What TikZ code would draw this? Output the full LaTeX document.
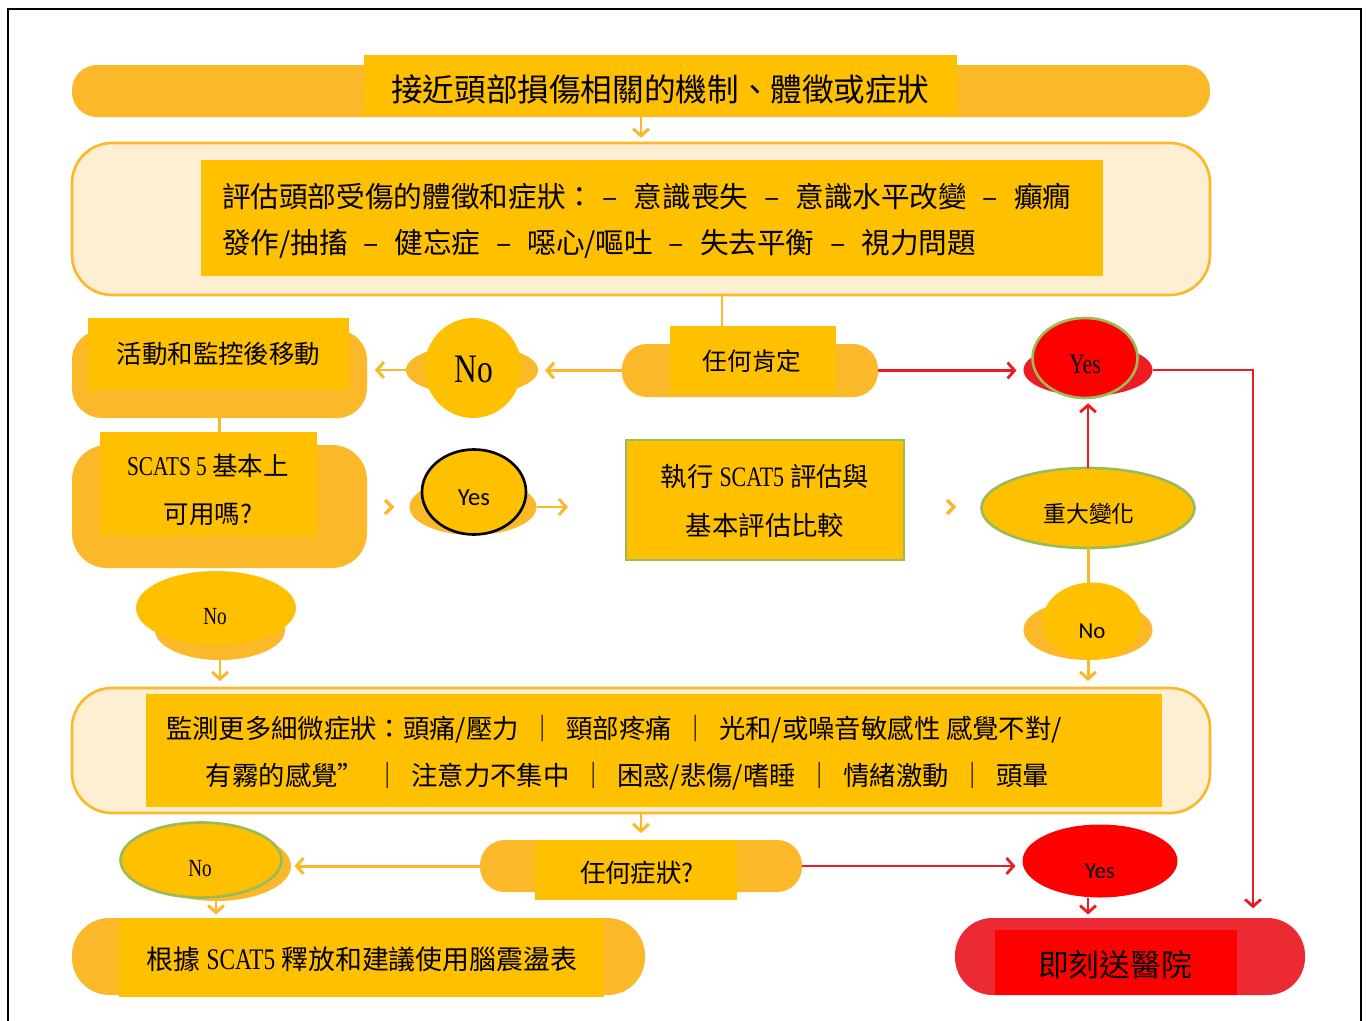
\documentclass[tikz,border=0pt]{standalone}
\usepackage{fontspec}
\setmainfont{Noto Sans CJK TC}
\newfontfamily\cond[FakeStretch=0.78]{Liberation Serif}
\newfontfamily\carl{Carlito}
\usetikzlibrary{arrows.meta,shapes.geometric}
\definecolor{orB}{HTML}{FBB829}
\definecolor{yelC}{HTML}{FFC000}
\definecolor{creamC}{HTML}{FEEFD3}
\definecolor{redL}{HTML}{ED1C24}
\definecolor{redF}{HTML}{FF0000}
\definecolor{grn}{HTML}{9BBB59}
\definecolor{crim}{HTML}{EC2A34}
\newcommand\fz[1]{\fontsize{#1}{#1}\selectfont}
\newcommand\vb{\hspace{0.4em}｜\hspace{0.4em}}
\newcommand\dsh{\hspace{0.55em}–\hspace{0.55em}}
\begin{document}
\begin{tikzpicture}[x=0.02cm,y=-0.02cm,
  every node/.style={inner sep=0pt,outer sep=0pt},
  sz/.style 2 args={minimum width=#1*0.02cm,minimum height=#2*0.02cm},
  bar/.style={fill=orB,draw=none,rounded corners=0.5cm},
  ybox/.style={fill=yelC,draw=none},
  creambox/.style={fill=creamC,draw=orB,line width=1.5pt,rounded corners=0.8cm},
  oline/.style={draw=orB,line width=1.7pt},
  oarr/.style={oline,-{Straight Barb[length=4pt,width=9pt]}},
  rarr/.style={draw=redL,line width=1.6pt,-{Straight Barb[length=4pt,width=9pt]}},
  chev/.style={draw=orB,line width=2pt}
]
\clip (0,0) rectangle (1367,1021);
\fill[white] (0,0) rectangle (1367,1021);
\draw[line width=1.6pt] (8,1040) -- (8,9) -- (1361,9) -- (1361,1040);

% top
\node[bar,sz={1138}{52}] (titlebg) at (641,91) {};
\node[ybox,sz={593}{60}] (title) at (660.5,85) {};
\node[font=\fz{18}] (title-t) at (660,90) {接近頭部損傷相關的機制、體徵或症狀};

% assessment box
\node[creambox,sz={1138}{152}] (assessbg) at (641,219) {};
\node[ybox,sz={902}{116}] (assess) at (652,218) {};
\node[anchor=west,align=left,font=\fontsize{16.3}{26.6}\selectfont] (assess-t) at (222,221)
  {評估頭部受傷的體徵和症狀：\hspace{0.3em}–\hspace{0.55em}意識喪失\dsh 意識水平改變\dsh 癲癇\\發作/抽搐\dsh 健忘症\dsh 噁心/嘔吐\dsh 失去平衡\dsh 視力問題};

% any positive
\node[bar,sz={256}{53}] (anyqbg) at (750,370.5) {};
\node[ybox,sz={166}{67}] (anyq) at (753,359.5) {};
\node[font=\fz{14}] (anyq-t) at (752,361) {任何肯定};

% No 1
\node[ellipse,fill=orB,sz={132}{50}] (no1bg) at (472,370) {};
\node[ellipse,fill=yelC,sz={97}{100}] (no1) at (473,368) {};
\node[font=\cond\fz{23}] (no1-t) at (474,369) {No};

% activity
\node[bar,rounded corners=0.6cm,sz={295}{88}] (actbg) at (219.5,374) {};
\node[ybox,sz={261}{72},font=\fz{14.5}] (act) at (218.5,354) {活動和監控後移動};

% SCATS
\node[bar,rounded corners=0.7cm,sz={295}{123}] (scatsbg) at (219.5,506.5) {};
\node[ybox,sz={217}{103}] (scats) at (208.5,483.5) {};
\node[align=center,font=\fontsize{14.5}{27}\selectfont] (scats-t) at (208,490) {{\cond\fontsize{15.5}{27}\selectfont SCATS 5} 基本上\\可用嗎?};

% Yes 1
\node[ellipse,fill=orB,sz={127}{56}] (yes1bg) at (473,507) {};
\node[ellipse,fill=yelC,draw=black,line width=1.5pt,sz={104}{85}] (yes1) at (474,492) {};
\node[font=\carl\fz{14}] (yes1-t) at (474,498) {Yes};
\coordinate (yesend) at (568,507);

% exec
\node[ybox,draw=grn,line width=1.5pt,sz={278}{120}] (exec) at (765,500) {};
\node[align=center,font=\fontsize{15}{27.5}\selectfont] (exec-t) at (765,501) {執行 {\cond\fontsize{16}{27.5}\selectfont SCAT5} 評估與\\基本評估比較};

% major change
\node[ellipse,fill=yelC,draw=grn,line width=1.5pt,sz={213}{80}] (chg) at (1088,508) {};
\node[font=\fz{13}] (chg-t) at (1089,514) {重大變化};

% Yes 2
\node[ellipse,fill=redL,sz={129}{52}] (yes2bg) at (1088,370) {};
\node[ellipse,fill=redF,draw=grn,line width=1.5pt,sz={105}{80}] (yes2) at (1085,358) {};
\node[font=\cond\fz{16}] (yes2-t) at (1085,364) {Yes};

% No 2
\node[ellipse,fill=orB,sz={129}{60}] (no2bg) at (1088,630) {};
\node[ellipse,fill=yelC,sz={99}{77}] (no2) at (1092,621) {};
\node[font=\carl\fz{13}] (no2-t) at (1092,631) {No};

% No 3
\node[ellipse,fill=orB,sz={130}{60}] (no3bg) at (220,630) {};
\node[ellipse,fill=yelC,sz={160}{74}] (no3) at (216,608) {};
\node[font=\cond\fz{14}] (no3-t) at (215,617) {No};

% monitor box
\node[creambox,sz={1138}{125}] (monbg) at (641,750.5) {};
\node[ybox,sz={1016}{113}] (mon) at (654,750.5) {};
\node[anchor=west,align=left,font=\fontsize{15}{27}\selectfont] (mon-t) at (166,753)
  {監測更多細微症狀：頭痛/壓力\vb 頸部疼痛\vb 光和/或噪音敏感性 感覺不對/\\\hspace*{0.8cm}有霧的感覺”\vb 注意力不集中\vb 困惑/悲傷/嗜睡\vb 情緒激動\vb 頭暈};

% any symptom
\node[bar,sz={322}{52}] (sym2bg) at (641,866) {};
\node[ybox,sz={202}{60}] (sym2) at (636,870) {};
\node[font=\fz{14.5}] (sym2-t) at (637,873) {任何症狀?};

% No 4
\node[ellipse,fill=orB,sz={150}{70}] (no4bg) at (216,866) {};
\node[ellipse,fill=yelC,draw=grn,line width=1.5pt,sz={161}{75}] (no4) at (201,860) {};
\node[font=\cond\fz{14}] (no4-t) at (200,869) {No};

% Yes 3
\node[ellipse,fill=redF,sz={155}{73}] (yes3) at (1100,861) {};
\node[font=\carl\fz{13}] (yes3-t) at (1100,871) {Yes};

% release
\node[bar,rounded corners=0.75cm,sz={573}{77}] (relbg) at (358.5,956.5) {};
\node[ybox,sz={485}{79}] (rel) at (361.5,957.5) {};
\node[font=\fz{15.3}] (rel-t) at (362,959) {根據 {\cond\fontsize{17}{17}\selectfont SCAT5} 釋放和建議使用腦震盪表};

% hospital
\node[fill=crim,rounded corners=0.75cm,sz={350}{77}] (hospbg) at (1130,956.5) {};
\node[fill=redF,sz={242}{65}] (hosp) at (1116,962.5) {};
\node[font=\fz{17.5}] (hosp-t) at (1115,965) {即刻送醫院};

% coordinates
\coordinate (x722) at (722,0);
\coordinate (x1088) at (1088,0);
\coordinate (rc) at (1253,370);

% connectors
\draw[oarr,shorten >=3pt] (titlebg.south) -- (assessbg.north);
\draw[oline] (assessbg.south -| x722) -- (anyq.north -| x722);
\draw[oarr,shorten >=4pt] (anyqbg.west) -- (no1bg.east |- anyqbg.west);
\draw[oarr,shorten >=4.5pt] (no1bg.west) -- (actbg.east |- no1bg.west);
\draw[oline] (actbg.south) -- (actbg.south |- scats.north);
\draw[chev] (385,500) -- (392,507) -- (385,514);
\draw[oarr] (yes1bg.east) -- (yesend);
\draw[chev] (947,500) -- (954,507) -- (947,514);
\draw[rarr,shorten >=4pt] (anyqbg.east) -- (yes2bg.west |- anyqbg.east);
\draw[rarr,shorten >=3pt] (chg.north) -- (chg.north |- yes2.south);
\draw[rarr,shorten >=5.5pt] (yes2bg.east) -- (rc) -- (rc |- hospbg.north);
\draw[oline] (chg.south) -- (chg.south |- no2.north);
\draw[oarr,shorten >=4pt] (no2bg.south) -- (no2bg.south |- monbg.north);
\draw[oarr,shorten >=4pt] (no3bg.south) -- (no3bg.south |- monbg.north);
\draw[oarr,shorten >=4pt] (monbg.south) -- (sym2bg.north);
\draw[oarr,shorten >=2pt] (sym2bg.west) -- (no4bg.east |- sym2bg.west);
\draw[rarr,shorten >=4pt] (sym2bg.east) -- (yes3.west |- sym2bg.east);
\draw[oarr,shorten >=2pt] (no4bg.south) -- (no4bg.south |- relbg.north);
\draw[rarr,shorten >=2pt] (yes3.south -| x1088) -- (hospbg.north -| x1088);
\end{tikzpicture}
\end{document}
